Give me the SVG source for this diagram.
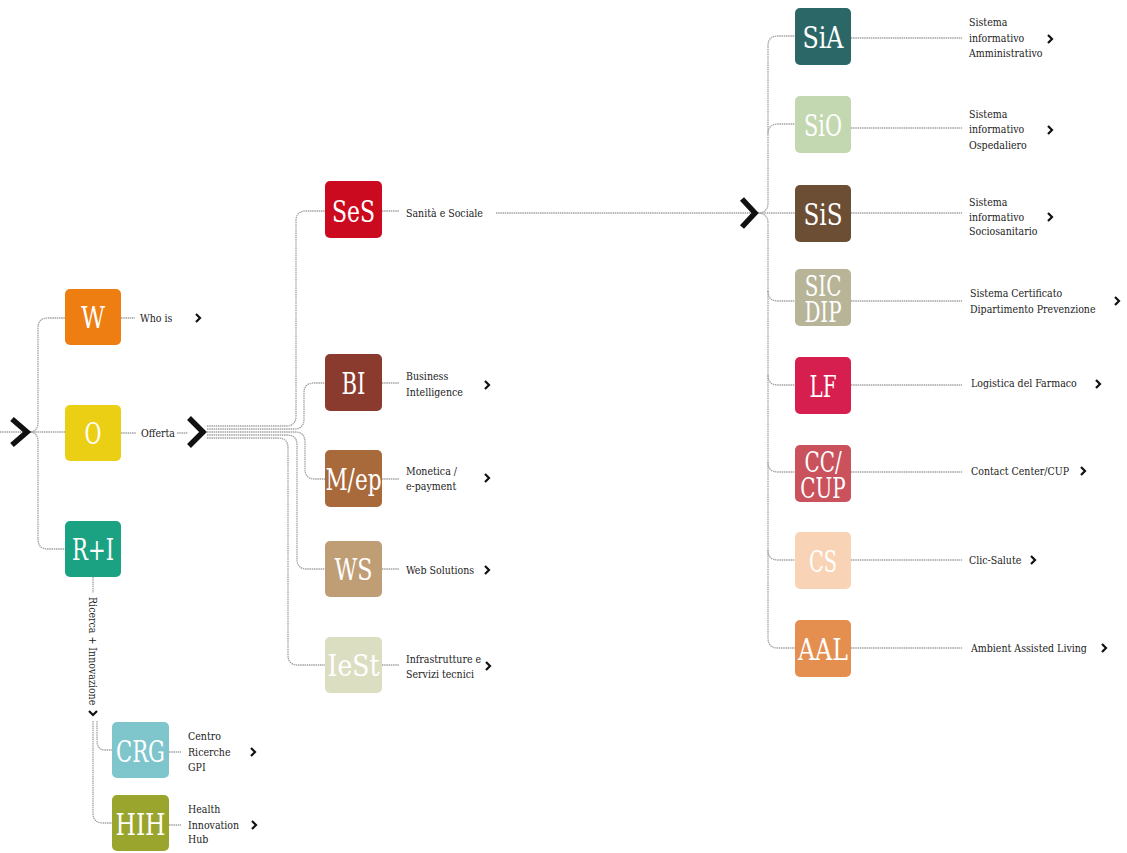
<svg xmlns="http://www.w3.org/2000/svg" width="1127" height="853" viewBox="0 0 1127 853">
<style>
.bg{fill:#ffffff}
.ln{fill:none;stroke:#a3a3a3;stroke-width:1.3;stroke-dasharray:1.5 0.7}
.box{rx:5;ry:5}
.bt{font-family:"DejaVu Serif Condensed","DejaVu Serif",serif;font-stretch:condensed;font-size:30px;fill:#ffffff;text-anchor:middle}
.bt2{font-family:"DejaVu Serif Condensed","DejaVu Serif",serif;font-stretch:condensed;font-size:27px;fill:#ffffff;text-anchor:middle}
.lb{font-family:"DejaVu Serif Condensed","DejaVu Serif",serif;font-stretch:condensed;font-size:10.5px;fill:#222222}
.ch{fill:none;stroke:#111111;stroke-width:2.2;stroke-linejoin:miter}
.bch{fill:none;stroke:#111111;stroke-width:5.5;stroke-linejoin:miter;stroke-linecap:butt}
</style>
<rect class="bg" x="0" y="0" width="1127" height="853"/>

<g id="connectors">
  <path class="ln" d="M0,432 H65"/>
  <path class="ln" d="M29,432 Q38,432 38,422 V328 Q38,318 48,318 H65"/>
  <path class="ln" d="M29,432 Q38,432 38,442 V539 Q38,549 48,549 H65"/>
  <path class="ln" d="M121,318 H135"/>
  <path class="ln" d="M121,433 H136"/>
  <path class="ln" d="M177,433 H188"/>
  <path class="ln" d="M207,426 H286 Q296,426 296,416 V221 Q296,211 306,211 H325"/>
  <path class="ln" d="M207,429 H294 Q304,429 304,419 V393 Q304,383 314,383 H325"/>
  <path class="ln" d="M207,432 H295 Q305,432 305,442 V469 Q305,479 315,479 H325"/>
  <path class="ln" d="M207,435 H287 Q297,435 297,445 V559 Q297,569 307,569 H325"/>
  <path class="ln" d="M207,438 H278 Q288,438 288,448 V655 Q288,665 298,665 H325"/>
  <path class="ln" d="M382,211 H399"/>
  <path class="ln" d="M382,383 H399"/>
  <path class="ln" d="M382,479 H399"/>
  <path class="ln" d="M382,569 H399"/>
  <path class="ln" d="M382,665 H399"/>
  <path class="ln" d="M496,213 H795"/>
  <path class="ln" d="M757,213 Q768,213 768,203 V46 Q768,36 778,36 H795"/>
  <path class="ln" d="M768,134 Q768,124 778,124 H795"/>
  <path class="ln" d="M757,213 Q768,213 768,223 V638 Q768,648 778,648 H795"/>
  <path class="ln" d="M768,291 Q768,301 778,301 H795"/>
  <path class="ln" d="M768,375 Q768,385 778,385 H795"/>
  <path class="ln" d="M768,462 Q768,472 778,472 H795"/>
  <path class="ln" d="M768,550 Q768,560 778,560 H795"/>
  <path class="ln" d="M851,38 H962"/>
  <path class="ln" d="M851,128 H962"/>
  <path class="ln" d="M851,213 H962"/>
  <path class="ln" d="M851,301 H962"/>
  <path class="ln" d="M851,385 H962"/>
  <path class="ln" d="M851,472 H962"/>
  <path class="ln" d="M851,560 H962"/>
  <path class="ln" d="M851,648 H962"/>
  <path class="ln" d="M93,577 V593"/>
  <path class="ln" d="M97,721 V740 Q97,750 105,750 H112"/>
  <path class="ln" d="M93,721 V813 Q93,823 103,823 H112"/>
  <path class="ln" d="M169,752 H181"/>
  <path class="ln" d="M169,825 H181"/>
  <path class="bch" d="M12,419 L27,432 L12,445"/>
  <path class="bch" d="M189,418 L203,432 L189,446"/>
  <path class="bch" d="M742,199 L755,213 L742,227"/>
  <path class="ch" d="M196,314 L200,318 L196,322"/>
  <path class="ch" d="M485,381 L489,385 L485,389"/>
  <path class="ch" d="M485,474 L489,478 L485,482"/>
  <path class="ch" d="M485,566 L489,570 L485,574"/>
  <path class="ch" d="M486,662 L490,666 L486,670"/>
  <path class="ch" d="M1048,35 L1052,39 L1048,43"/>
  <path class="ch" d="M1048,126 L1052,130 L1048,134"/>
  <path class="ch" d="M1048,213 L1052,217 L1048,221"/>
  <path class="ch" d="M1115,297 L1119,301 L1115,305"/>
  <path class="ch" d="M1096,380 L1100,384 L1096,388"/>
  <path class="ch" d="M1081,467 L1085,471 L1081,475"/>
  <path class="ch" d="M1031,556 L1035,560 L1031,564"/>
  <path class="ch" d="M1102,644 L1106,648 L1102,652"/>
  <path class="ch" d="M251,748 L255,752 L251,756"/>
  <path class="ch" d="M252,821 L256,825 L252,829"/>
  <path class="ch" d="M89,711 L93,715 L97,711"/>
</g>

<g id="node-W"><rect class="box" x="65" y="289" width="56" height="56" fill="#ee7d12"/><text class="bt" x="93" y="328" textLength="24" lengthAdjust="spacingAndGlyphs">W</text><text class="lb" x="140" y="322">Who is</text></g>
<g id="node-O"><rect class="box" x="65" y="405" width="56" height="56" fill="#ebcf14"/><text class="bt" x="93" y="444" textLength="17" lengthAdjust="spacingAndGlyphs">O</text><text class="lb" x="141" y="437">Offerta</text></g>
<g id="node-RI"><rect class="box" x="65" y="521" width="56" height="56" fill="#1ba283"/><text class="bt" x="93" y="560" textLength="42" lengthAdjust="spacingAndGlyphs">R+I</text>
<g transform="translate(89,597) rotate(90)"><text class="lb" x="0" y="0">Ricerca + Innovazione</text></g></g>

<g id="node-SeS"><rect class="box" x="325" y="181" width="57" height="57" fill="#cc0a1f"/><text class="bt" x="353.5" y="222" textLength="43" lengthAdjust="spacingAndGlyphs">SeS</text><text class="lb" x="406" y="217">Sanità e Sociale</text></g>
<g id="node-BI"><rect class="box" x="325" y="354" width="57" height="57" fill="#8b3a2e"/><text class="bt" x="353.5" y="394" textLength="24" lengthAdjust="spacingAndGlyphs">BI</text><text class="lb"><tspan x="406" y="380">Business</tspan><tspan x="406" y="396">Intelligence</tspan></text></g>
<g id="node-Mep"><rect class="box" x="325" y="450" width="57" height="57" fill="#a8693b"/><text class="bt" x="353.5" y="490" textLength="56" lengthAdjust="spacingAndGlyphs">M/ep</text><text class="lb"><tspan x="406" y="475">Monetica /</tspan><tspan x="406" y="490">e-payment</tspan></text></g>
<g id="node-WS"><rect class="box" x="325" y="541" width="57" height="56" fill="#bf9e76"/><text class="bt" x="353.5" y="580" textLength="38" lengthAdjust="spacingAndGlyphs">WS</text><text class="lb" x="406" y="574">Web Solutions</text></g>
<g id="node-IeSt"><rect class="box" x="325" y="637" width="57" height="56" fill="#dcdec2"/><text class="bt" x="353.5" y="676" textLength="52" lengthAdjust="spacingAndGlyphs">IeSt</text><text class="lb"><tspan x="406" y="663">Infrastrutture e</tspan><tspan x="406" y="678">Servizi tecnici</tspan></text></g>

<g id="node-SiA"><rect class="box" x="795" y="8" width="56" height="57" fill="#2c6768"/><text class="bt" x="823" y="48" textLength="41" lengthAdjust="spacingAndGlyphs">SiA</text><text class="lb"><tspan x="969" y="26">Sistema</tspan><tspan x="969" y="42">informativo</tspan><tspan x="969" y="57">Amministrativo</tspan></text></g>
<g id="node-SiO"><rect class="box" x="795" y="96" width="56" height="57" fill="#c3d8b0"/><text class="bt" x="823" y="136" textLength="38" lengthAdjust="spacingAndGlyphs">SiO</text><text class="lb"><tspan x="969" y="118">Sistema</tspan><tspan x="969" y="133">informativo</tspan><tspan x="969" y="149">Ospedaliero</tspan></text></g>
<g id="node-SiS"><rect class="box" x="795" y="185" width="56" height="57" fill="#6b4e33"/><text class="bt" x="823" y="225" textLength="39" lengthAdjust="spacingAndGlyphs">SiS</text><text class="lb"><tspan x="969" y="206">Sistema</tspan><tspan x="969" y="221">informativo</tspan><tspan x="969" y="235">Sociosanitario</tspan></text></g>
<g id="node-SICDIP"><rect class="box" x="795" y="269" width="56" height="57" fill="#b7b497"/><g transform="translate(823,0) scale(0.82,1)"><text class="bt2"><tspan x="0" y="296">SIC</tspan><tspan x="0" y="322">DIP</tspan></text></g><text class="lb"><tspan x="970" y="297">Sistema Certificato</tspan><tspan x="970" y="313">Dipartimento Prevenzione</tspan></text></g>
<g id="node-LF"><rect class="box" x="795" y="357" width="56" height="57" fill="#d61f4f"/><text class="bt" x="823" y="397" textLength="27" lengthAdjust="spacingAndGlyphs">LF</text><text class="lb" x="971" y="387">Logistica del Farmaco</text></g>
<g id="node-CCCUP"><rect class="box" x="795" y="445" width="56" height="57" fill="#c9525c"/><g transform="translate(823,0) scale(0.82,1)"><text class="bt2"><tspan x="0" y="472">CC/</tspan><tspan x="0" y="498">CUP</tspan></text></g><text class="lb" x="971" y="475">Contact Center/CUP</text></g>
<g id="node-CS"><rect class="box" x="795" y="532" width="56" height="57" fill="#f8d3b5"/><text class="bt" x="823" y="572" textLength="28" lengthAdjust="spacingAndGlyphs">CS</text><text class="lb" x="969" y="564">Clic-Salute</text></g>
<g id="node-AAL"><rect class="box" x="795" y="620" width="56" height="57" fill="#e48e4f"/><text class="bt" x="823" y="660" textLength="50" lengthAdjust="spacingAndGlyphs">AAL</text><text class="lb" x="971" y="652">Ambient Assisted Living</text></g>

<g id="node-CRG"><rect class="box" x="112" y="722" width="57" height="56" fill="#7ec5cc"/><text class="bt" x="140.5" y="762" textLength="49" lengthAdjust="spacingAndGlyphs">CRG</text><text class="lb"><tspan x="188" y="740">Centro</tspan><tspan x="188" y="756">Ricerche</tspan><tspan x="188" y="771">GPI</tspan></text></g>
<g id="node-HIH"><rect class="box" x="112" y="795" width="57" height="56" fill="#9aa52d"/><text class="bt" x="140.5" y="835" textLength="50" lengthAdjust="spacingAndGlyphs">HIH</text><text class="lb"><tspan x="188" y="813">Health</tspan><tspan x="188" y="829">Innovation</tspan><tspan x="188" y="843">Hub</tspan></text></g>
</svg>
